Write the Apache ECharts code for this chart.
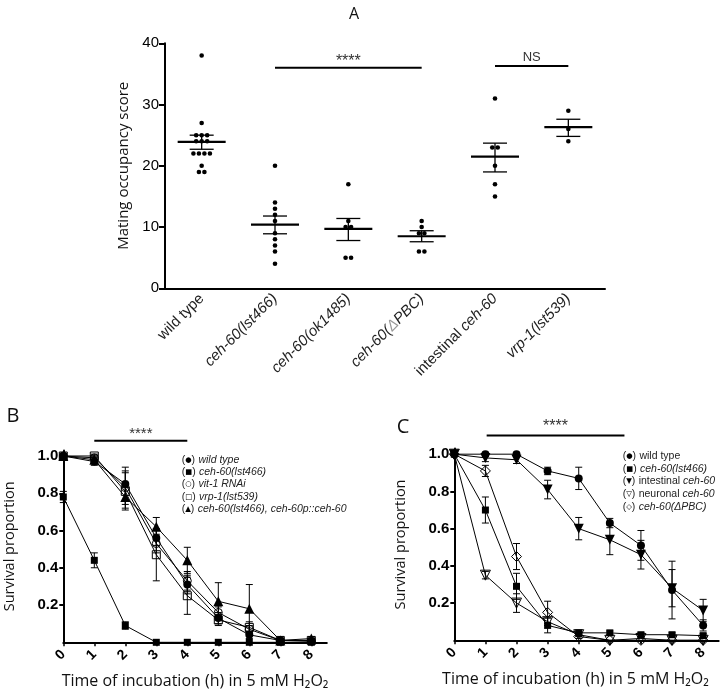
<!DOCTYPE html>
<html><head><meta charset="utf-8">
<script src="https://cdn.jsdelivr.net/npm/echarts@6/dist/echarts.min.js"></script>
<style>html,body{margin:0;padding:0;background:#fff}#c{width:721px;height:691px}</style>
</head><body><div id="c"></div>
<script>
// ---------- Panel A data ----------
const categoriesA = ['wild type','ceh-60(lst466)','ceh-60(ok1485)','ceh-60(ΔPBC)','intestinal ceh-60','vrp-1(lst539)'];
const scoresWildType   = [38,27,25,25,25,24,24,24,22,22,22,22,20,19,19];
const scoresLst466     = [20,14,13,12,11,9,8,7,6,4];
const scoresOk1485     = [17,11,10,10,5,5];
const scoresDeltaPBC   = [11,10,9,9,6,6];
const scoresIntestinal = [31,23,23,20,17,15];
const scoresVrp1       = [29,26,24];
const meanA    = [23.9,10.4,9.7,8.5,21.5,26.3];
const semLowA  = [22.7,8.9,7.8,7.6,19.0,24.8];
const semHighA = [25.0,11.8,11.4,9.4,23.7,27.6];

// ---------- Panel B / C data ----------
const hours = [0,1,2,3,4,5,6,7,8];
const survivalTicks = [0.2,0.4,0.6,0.8,1.0];

const namesB = ['wild type','ceh-60(lst466)','vit-1 RNAi','vrp-1(lst539)','ceh-60(lst466), ceh-60p::ceh-60'];
const bWildType = [1.00,0.97,0.85,0.56,0.31,0.13,0.04,0.01,0.005];
const bLst466   = [0.78,0.44,0.09,0.00,0.00,0.00,0.00,0.00,0.00];
const bVit1     = [1.00,0.99,0.83,0.53,0.33,0.16,0.07,0.01,0.01];
const bVrp1     = [1.00,1.00,0.81,0.47,0.25,0.12,0.08,0.01,0.01];
const bRescue   = [1.00,0.98,0.78,0.62,0.44,0.22,0.18,0.01,0.02];
const bWildTypeErr = [0.01,0.02,0.09,0.04,0.05,0.03,0.02,0.01,0.01];
const bLst466Err   = [0.03,0.04,0.02,0,0,0,0,0,0];
const bVit1Err     = [0.01,0.01,0.09,0.05,0.05,0.03,0.02,0.01,0.01];
const bVrp1Err     = [0.01,0.01,0.10,0.14,0.10,0.03,0.03,0.01,0.01];
const bRescueErr   = [0.01,0.02,0.06,0.05,0.07,0.10,0.13,0.01,0.01];

const namesC = ['wild type','ceh-60(lst466)','intestinal ceh-60','neuronal ceh-60','ceh-60(ΔPBC)'];
const cWildType   = [1.00,1.00,1.00,0.91,0.87,0.63,0.51,0.27,0.08];
const cLst466     = [1.00,0.70,0.29,0.08,0.04,0.04,0.03,0.03,0.025];
const cIntestinal = [1.00,0.98,0.97,0.81,0.60,0.54,0.46,0.28,0.16];
const cNeuronal   = [1.00,0.35,0.20,0.10,0.03,0.00,0.01,0.00,0.00];
const cDeltaPBC   = [1.00,0.91,0.45,0.15,0.02,0.00,0.00,0.00,0.00];
const cWildTypeErr   = [0,0.01,0.01,0.02,0.06,0.025,0.08,0.155,0.03];
const cLst466Err     = [0,0.07,0.07,0.04,0.01,0.01,0.01,0.01,0.01];
const cIntestinalErr = [0,0.02,0.02,0.05,0.06,0.08,0.077,0.10,0.06];
const cNeuronalErr   = [0,0.02,0.05,0.02,0.01,0,0,0,0];
const cDeltaPBCErr   = [0,0.03,0.07,0.06,0.01,0,0,0,0];

// ---------- helpers ----------
const SANS = 'Liberation Sans, Arial, sans-serif';
const HUM = 'Open Sans, Noto Sans, sans-serif';

function swarm(vals, ci){
  const counts = {}; vals.forEach(v => { counts[v] = (counts[v]||0)+1; });
  const seen = {};
  return vals.map(v => { const k = seen[v] || 0; seen[v] = k+1; return [ci, v, k, counts[v]]; });
}
const pointsA = [].concat(
  swarm(scoresWildType,0), swarm(scoresLst466,1), swarm(scoresOk1485,2),
  swarm(scoresDeltaPBC,3), swarm(scoresIntestinal,4), swarm(scoresVrp1,5));
const meanData = meanA.map((m,i) => [i, m, semLowA[i], semHighA[i]]);

function errData(vals, errs){
  return vals.map((v,i) => [hours[i], v - errs[i], v + errs[i]]).filter((d,i) => errs[i] > 0);
}
const errB = [].concat(errData(bWildType,bWildTypeErr), errData(bLst466,bLst466Err), errData(bVit1,bVit1Err), errData(bVrp1,bVrp1Err), errData(bRescue,bRescueErr));
const errC = [].concat(errData(cWildType,cWildTypeErr), errData(cLst466,cLst466Err), errData(cIntestinal,cIntestinalErr), errData(cNeuronal,cNeuronalErr), errData(cDeltaPBC,cDeltaPBCErr));

function errSeries(data, gi){
  return {
    type:'custom', xAxisIndex:gi, yAxisIndex:gi, z:2, data, encode:{x:0,y:[1,2]},
    renderItem(params, api){
      const lo = api.coord([api.value(0), api.value(1)]);
      const hi = api.coord([api.value(0), api.value(2)]);
      const w = 3.5, st = {stroke:'#000', lineWidth:1};
      return {type:'group', children:[
        {type:'line', shape:{x1:lo[0],y1:lo[1],x2:hi[0],y2:hi[1]}, style:st},
        {type:'line', shape:{x1:lo[0]-w,y1:lo[1],x2:lo[0]+w,y2:lo[1]}, style:st},
        {type:'line', shape:{x1:hi[0]-w,y1:hi[1],x2:hi[0]+w,y2:hi[1]}, style:st}
      ]};
    }
  };
}
function lineSeries(name, vals, gi, symbol, size, open, rotate){
  return {
    type:'line', name, xAxisIndex:gi, yAxisIndex:gi, z:3,
    data: vals.map((v,i) => [hours[i], v]),
    symbol, symbolSize:size, symbolRotate: rotate || 0, showSymbol:true, clip:false,
    lineStyle:{color:'#000', width:1},
    itemStyle: open ? {color:'rgba(255,255,255,0)', borderColor:'#000', borderWidth:1}
                    : {color:'#000', borderWidth:0}
  };
}

const labelRich = {
  n:{fontSize:15, color:'#222', fontFamily:SANS},
  i:{fontSize:15, color:'#222', fontFamily:SANS, fontStyle:'italic'},
  d:{fontSize:15, color:'#999', fontFamily:SANS, fontStyle:'italic'}
};
const catLabel = {
  'wild type':'{n|wild type}',
  'ceh-60(lst466)':'{i|ceh-60(lst466)}',
  'ceh-60(ok1485)':'{i|ceh-60(ok1485)}',
  'ceh-60(ΔPBC)':'{i|ceh-60(}{d|Δ}{i|PBC)}',
  'intestinal ceh-60':'{n|intestinal }{i|ceh-60}',
  'vrp-1(lst539)':'{i|vrp-1(lst539)}'
};

function survivalX(gi, max, namePad){
  return {
    type:'value', gridIndex:gi, min:0, max,
    axisLine:{show:true, onZero:false, lineStyle:{color:'#000', width:2}},
    axisTick:{show:true, customValues:hours, length:4, lineStyle:{color:'#000', width:1.5}},
    axisLabel:{customValues:hours, rotate:45, fontSize:14, fontWeight:'bold', color:'#000', margin:10, fontFamily:SANS},
    splitLine:{show:false},
    name:'Time of incubation (h) in 5 mM H₂O₂', nameLocation:'middle', nameGap:31,
    nameTextStyle:{fontSize:16, color:'#111', fontFamily:HUM, padding:namePad}
  };
}
function survivalY(gi){
  return {
    type:'value', gridIndex:gi, min:0, max:1.03,
    axisLine:{show:true, lineStyle:{color:'#000', width:2}},
    axisTick:{show:true, customValues:survivalTicks, length:4, lineStyle:{color:'#000', width:2}},
    axisLabel:{customValues:survivalTicks, formatter:v => v.toFixed(1), fontSize:15, fontWeight:'bold', color:'#000', margin:5, fontFamily:SANS},
    splitLine:{show:false},
    name:'Survival proportion', nameLocation:'middle', nameGap:46,
    nameTextStyle:{fontSize:14.5, color:'#111', fontFamily:HUM}
  };
}

const chart = echarts.init(document.getElementById('c'), null, {renderer:'canvas'});
const option = {
  animation:false,
  backgroundColor:'#fff',
  grid:[
    {left:165, top:43.3, width:440, height:245},
    {left:63.3, top:450.4, width:263.5, height:191.9},
    {left:454.3, top:448.6, width:264.4, height:191.7}
  ],
  xAxis:[
    {type:'category', gridIndex:0, data:categoriesA, boundaryGap:true,
     axisLine:{lineStyle:{color:'#000', width:2}},
     axisTick:{alignWithLabel:true, length:5, lineStyle:{color:'#000', width:2}},
     axisLabel:{rotate:45, margin:8, interval:0, formatter:v => catLabel[v], rich:labelRich}},
    survivalX(1, 8.5, [0,0,0,0]),
    survivalX(2, 8.5, [0,22,0,0])
  ],
  yAxis:[
    {type:'value', gridIndex:0, min:0, max:40, interval:10,
     axisLine:{show:true, lineStyle:{color:'#000', width:2}},
     axisTick:{show:true, length:6, lineStyle:{color:'#000', width:2}},
     axisLabel:{fontSize:15, color:'#000', margin:6, fontFamily:SANS},
     splitLine:{show:false},
     name:'Mating occupancy score', nameLocation:'middle', nameGap:27,
     nameTextStyle:{fontSize:15, color:'#111', fontFamily:HUM}},
    survivalY(1),
    survivalY(2)
  ],
  series:[
    {type:'custom', xAxisIndex:0, yAxisIndex:0, data:pointsA, encode:{x:0,y:1}, z:3,
     renderItem(params, api){
       const p = api.coord([api.value(0), api.value(1)]);
       const off = (api.value(2) - (api.value(3)-1)/2) * 5.5;
       return {type:'circle', shape:{cx:p[0]+off, cy:p[1], r:2.3}, style:{fill:'#000'}};
     }},
    {type:'custom', xAxisIndex:0, yAxisIndex:0, data:meanData, encode:{x:0,y:[1,2,3]}, z:2,
     renderItem(params, api){
       const m = api.coord([api.value(0), api.value(1)]);
       const lo = api.coord([api.value(0), api.value(2)]);
       const hi = api.coord([api.value(0), api.value(3)]);
       const st = {stroke:'#000', lineWidth:1.3};
       return {type:'group', children:[
         {type:'line', shape:{x1:m[0]-24,y1:m[1],x2:m[0]+24,y2:m[1]}, style:{stroke:'#000', lineWidth:2.2}},
         {type:'line', shape:{x1:lo[0],y1:lo[1],x2:hi[0],y2:hi[1]}, style:st},
         {type:'line', shape:{x1:lo[0]-12,y1:lo[1],x2:lo[0]+12,y2:lo[1]}, style:st},
         {type:'line', shape:{x1:hi[0]-12,y1:hi[1],x2:hi[0]+12,y2:hi[1]}, style:st}
       ]};
     }},
    errSeries(errB, 1),
    lineSeries(namesB[0], bWildType, 1, 'circle', 8),
    lineSeries(namesB[1], bLst466, 1, 'rect', 7),
    lineSeries(namesB[2], bVit1, 1, 'circle', 8, true),
    lineSeries(namesB[3], bVrp1, 1, 'rect', 8, true),
    lineSeries(namesB[4], bRescue, 1, 'triangle', 10),
    errSeries(errC, 2),
    lineSeries(namesC[0], cWildType, 2, 'circle', 8),
    lineSeries(namesC[1], cLst466, 2, 'rect', 7),
    lineSeries(namesC[2], cIntestinal, 2, 'triangle', 10, false, 180),
    lineSeries(namesC[3], cNeuronal, 2, 'triangle', 10, true, 180),
    lineSeries(namesC[4], cDeltaPBC, 2, 'diamond', 10, true)
  ]
};
chart.setOption(option);

// ---------- annotations (positions from data coordinates) ----------
const g = [];
function sigBar(gi, x1, x2, y, text, fontSize, dy){
  const p1 = chart.convertToPixel({gridIndex:gi}, [x1, y]);
  const p2 = chart.convertToPixel({gridIndex:gi}, [x2, y]);
  g.push({type:'line', shape:{x1:p1[0], y1:p1[1], x2:p2[0], y2:p2[1]}, style:{stroke:'#000', lineWidth:2}});
  g.push({type:'text', x:(p1[0]+p2[0])/2, y:p1[1]-dy,
          style:{text, fontSize, fill:'#333', fontFamily:SANS, align:'center', verticalAlign:'middle'}});
}
sigBar(0, 1, 3.1, 36.0, '****', 16, 6.5);
sigBar(0, 4, 5, 36.3, 'NS', 13, 8.5);
sigBar(1, 1, 4, 1.082, '****', 15, 7);
sigBar(2, 1.04, 5.47, 1.10, '****', 16, 9);

// panel letters
g.push({type:'text', x:354, y:14, style:{text:'A', fontSize:16, fill:'#111', fontFamily:HUM, align:'center', verticalAlign:'middle'}});
g.push({type:'text', x:13, y:416, style:{text:'B', fontSize:20, fill:'#111', fontFamily:HUM, align:'center', verticalAlign:'middle'}});
g.push({type:'text', x:403, y:427, style:{text:'C', fontSize:20, fill:'#111', fontFamily:HUM, align:'center', verticalAlign:'middle'}});

// legends
const legendRich = (fs) => ({
  p:{fontSize:fs, fill:'#222', fontFamily:SANS},
  s:{fontSize:fs*0.7, fill:'#000', fontFamily:'DejaVu Sans, sans-serif'},
  i:{fontSize:fs, fill:'#222', fontFamily:SANS, fontStyle:'italic'},
  n:{fontSize:fs, fill:'#222', fontFamily:SANS}
});
const legendB = [['●', '{i|'+namesB[0]+'}'], ['■', '{i|'+namesB[1]+'}'], ['○', '{i|'+namesB[2]+'}'], ['□', '{i|'+namesB[3]+'}'], ['▲', '{i|'+namesB[4]+'}']];
legendB.forEach((r,k) => {
  g.push({type:'text', x:181.7, y:460 + 12.25*k, style:{text:'{p|(}{s|'+r[0]+'}{p|)} '+r[1], rich:legendRich(10.5), verticalAlign:'middle', align:'left'}});
});
const legendC = [['●','{n|wild type}'], ['■','{i|ceh-60(lst466)}'], ['▼','{n|intestinal }{i|ceh-60}'], ['▽','{n|neuronal }{i|ceh-60}'], ['◇','{i|ceh-60(ΔPBC)}']];
legendC.forEach((r,k) => {
  g.push({type:'text', x:622.7, y:456 + 12.7*k, style:{text:'{p|(}{s|'+r[0]+'}{p|)} '+r[1], rich:legendRich(10.5), verticalAlign:'middle', align:'left'}});
});
chart.setOption({graphic:g});
</script>
</body></html>
